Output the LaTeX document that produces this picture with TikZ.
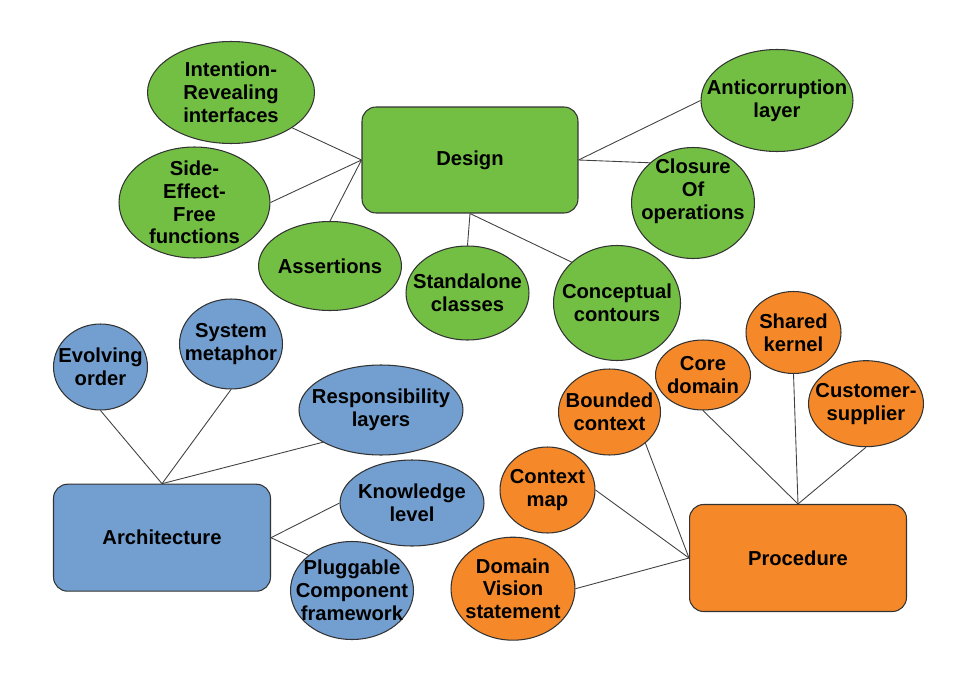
\documentclass[tikz,border=0pt]{standalone}
\usepackage{fontspec}
\setmainfont{Liberation Sans}
\usetikzlibrary{shapes.geometric}
\definecolor{leafgreen}{RGB}{114,191,68}
\definecolor{skyblue}{RGB}{114,159,207}
\definecolor{pumpkin}{RGB}{245,137,42}
\tikzset{
	bubble/.style={ellipse, draw=black!80, line width=0.6pt, inner sep=0pt},
	mainbox/.style={rectangle, rounded corners=8pt, draw=black!80, line width=0.6pt, inner sep=0pt, align=center},
	link/.style={draw=black!75, line width=0.5pt},
	every label/.style={align=center, inner sep=0pt},
	every node/.style={font=\bfseries\fontsize{11.5}{13}\selectfont}
}
\begin{document}
\begin{tikzpicture}[x=0.02cm, y=-0.02cm]
		%%%%% START %%%%%
		\useasboundingbox (0, 0) rectangle (960, 679);
		
		% design
		\node[mainbox, fill=leafgreen, minimum width=4.32cm, minimum height=2.12cm] (design) at (470, 160) {Design};
		\node[bubble, fill=leafgreen, minimum width=3.34cm, minimum height=2.04cm, label={center:{Intention-\\Revealing\\interfaces}}] (intention) at (231, 92.5) {};
		\node[bubble, fill=leafgreen, minimum width=3.02cm, minimum height=2.22cm, label={center:{Side-\\Effect-\\Free\\functions}}] (sideeffect) at (194.5, 202.5) {};
		\node[bubble, fill=leafgreen, minimum width=2.86cm, minimum height=1.78cm, label={center:{Assertions}}] (assertions) at (330, 266) {};
		\node[bubble, fill=leafgreen, minimum width=2.46cm, minimum height=1.88cm, label={center:{Standalone\\classes}}] (standalone) at (467.5, 293) {};
		\node[bubble, fill=leafgreen, minimum width=2.54cm, minimum height=2.30cm, label={center:{Conceptual\\contours}}] (conceptual) at (617, 303) {};
		\node[bubble, fill=leafgreen, minimum width=2.46cm, minimum height=2.22cm, label={[yshift=6.8pt]center:{Closure\\Of\\operations}}] (closure) at (693, 203) {};
		\node[bubble, fill=leafgreen, minimum width=3.04cm, minimum height=2.04cm, label={center:{Anticorruption\\layer}}] (anticorruption) at (777, 100.5) {};
		
		\draw[link] (design.west) -- (intention.-30);
		\draw[link] (design.west) -- (sideeffect.east);
		\draw[link] (design.west) -- (assertions.north);
		\draw[link] (design.south) -- (standalone.north);
		\draw[link] (design.south) -- (conceptual.138);
		\draw[link] (design.east) -- (anticorruption.west);
		\draw[link] (design.east) -- (closure.137);
		
		% architecture
		\node[mainbox, fill=skyblue, minimum width=4.34cm, minimum height=2.14cm] (architecture) at (162, 537.7) {Architecture};
		\node[bubble, fill=skyblue, minimum width=1.88cm, minimum height=1.72cm, label={center:{Evolving\\order}}] (evolving) at (100.5, 367) {};
		\node[bubble, fill=skyblue, minimum width=2.06cm, minimum height=1.80cm, label={center:{System\\metaphor}}] (metaphor) at (231, 344) {};
		\node[bubble, fill=skyblue, minimum width=3.28cm, minimum height=1.80cm, label={center:{Responsibility\\layers}}] (responsibility) at (381, 410) {};
		\node[bubble, fill=skyblue, minimum width=2.88cm, minimum height=1.72cm, label={center:{Knowledge\\level}}] (knowledge) at (412, 503) {};
		\node[bubble, fill=skyblue, minimum width=2.46cm, minimum height=1.96cm, label={center:{Pluggable\\Component\\framework}}] (pluggable) at (352, 590.5) {};
		
		\draw[link] (architecture.north) -- (evolving.south);
		\draw[link] (architecture.north) -- (metaphor.south);
		\draw[link] (architecture.north) -- (responsibility.209);
		\draw[link] (architecture.east) -- (knowledge.west);
		\draw[link] (architecture.east) -- (pluggable.141);
		
		% procedure
		\node[mainbox, fill=pumpkin, minimum width=4.34cm, minimum height=2.14cm] (procedure) at (798, 558) {Procedure};
		\node[bubble, fill=pumpkin, minimum width=1.90cm, minimum height=1.64cm, label={center:{Shared\\kernel}}] (shared) at (793.5, 332.5) {};
		\node[bubble, fill=pumpkin, minimum width=1.90cm, minimum height=1.40cm, label={center:{Core\\domain}}] (core) at (703, 375) {};
		\node[bubble, fill=pumpkin, minimum width=2.30cm, minimum height=1.72cm, label={center:{Customer-\\supplier}}] (customer) at (866, 403.7) {};
		\node[bubble, fill=pumpkin, minimum width=2.04cm, minimum height=1.72cm, label={center:{Bounded\\context}}] (bounded) at (609.5, 412) {};
		\node[bubble, fill=pumpkin, minimum width=1.90cm, minimum height=1.72cm, label={center:{Context\\map}}] (contextmap) at (547.5, 490) {};
		\node[bubble, fill=pumpkin, minimum width=2.48cm, minimum height=2.06cm, label={center:{Domain\\Vision\\statement}}] (vision) at (513, 588.7) {};
		
		\draw[link] (procedure.north) -- (core.south);
		\draw[link] (procedure.north) -- (shared.south);
		\draw[link] (procedure.north) -- (customer.south);
		\draw[link] (procedure.west) -- (bounded.-41);
		\draw[link] (procedure.west) -- (contextmap.east);
		\draw[link] (procedure.west) -- (vision.east);
		
		%%%%% END %%%%%
\end{tikzpicture}
\end{document}
